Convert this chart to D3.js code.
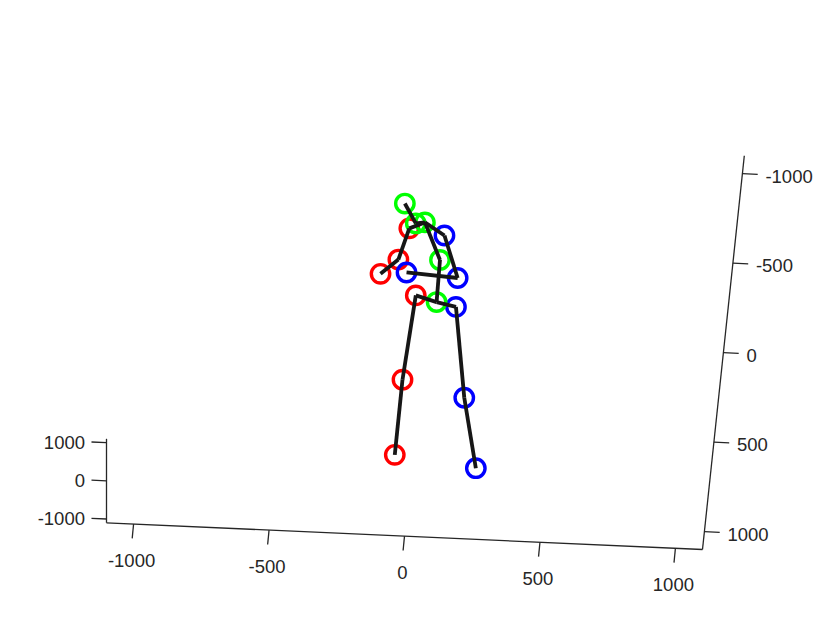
<!DOCTYPE html>
<html>
<head>
<meta charset="utf-8">
<script src="https://cdn.jsdelivr.net/npm/d3@7"></script>
<style>
  body { margin: 0; background: #fff; }
  text { font-family: "Liberation Sans", Arial, sans-serif; font-size: 18.5px; fill: #262626; }
</style>
</head>
<body>
<svg id="chart" width="822" height="617"></svg>
<script>
// joints of the pose (Human3.6M order), depth (y) can't be read off this view
const jointNames = ['pelvis', 'rHip', 'rKnee', 'rFoot', 'lHip', 'lKnee', 'lFoot', 'spine',
  'thorax', 'neck', 'head', 'lShoulder', 'lElbow', 'lWrist', 'rShoulder', 'rElbow', 'rWrist'];
const jointX = [43, -36, -52, -51, 116, 182, 252, 39, -31, -64, -112, 46, 111, -79, -86, -114, -174];
const jointY = [0, 0, 0, 0, 0, 0, 0, 0, 0, 0, 0, 0, 0, 0, 0, 0, 0];
const jointZ = [24, -8, 464, 884, 46, 549, 938, -211, -416, -408, -516, -348, -115, -133, -379, -203, -119];
const jointSide = ['c', 'r', 'r', 'r', 'l', 'l', 'l', 'c', 'c', 'c', 'c', 'l', 'l', 'l', 'r', 'r', 'r'];
const bones = [[0, 1], [1, 2], [2, 3], [0, 4], [4, 5], [5, 6], [0, 7], [7, 8], [8, 9], [9, 10],
  [8, 11], [11, 12], [12, 13], [8, 14], [14, 15], [15, 16]];

const axisLim = [-1100, 1100];
const xTicks = [-1000, -500, 0, 500, 1000];
const yTicks = [-1000, 0, 1000];
const zTicks = [-1000, -500, 0, 500, 1000];

const sideColor = { c: '#00ff00', r: '#ff0000', l: '#0000ff' };
// red markers end up underneath, green on top
const sideOrder = { r: 0, l: 1, c: 2 };

// orthographic view of the box: corner (xmin,ymin,zmin) and the span of each axis on screen
const corner = [148.3, 129.0];
const xSpan = [596, 26.7];
const ySpan = [0, -84];
const zSpan = [-41.8, 393.8];

const xScale = d3.scaleLinear().domain(axisLim).range([0, 1]);
const yScale = d3.scaleLinear().domain(axisLim).range([0, 1]);
const zScale = d3.scaleLinear().domain(axisLim).range([0, 1]);

const project = (x, y, z) => {
  const u = xScale(x);
  const v = yScale(y);
  const w = zScale(z);
  return [
    corner[0] + u * xSpan[0] + v * ySpan[0] + w * zSpan[0],
    corner[1] + u * xSpan[1] + v * ySpan[1] + w * zSpan[1],
  ];
};

const svg = d3.select('#chart');
const axisColor = '#262626';

const drawAxis = (from, to, ticks, pointAt, tickVec, labelPos, anchor) => {
  const g = svg.append('g').attr('class', 'axis');
  const a = pointAt(from);
  const b = pointAt(to);
  g.append('line')
    .attr('x1', a[0]).attr('y1', a[1])
    .attr('x2', b[0]).attr('y2', b[1])
    .style('stroke', axisColor)
    .style('stroke-width', 1.3);

  ticks.forEach((t) => {
    const p = pointAt(t);
    g.append('line')
      .attr('x1', p[0]).attr('y1', p[1])
      .attr('x2', p[0] + tickVec[0]).attr('y2', p[1] + tickVec[1])
      .style('stroke', axisColor)
      .style('stroke-width', 1.3);
    const lp = labelPos(p);
    g.append('text')
      .attr('x', lp[0])
      .attr('y', lp[1])
      .attr('text-anchor', anchor)
      .text(t);
  });
};

// x along the front bottom edge
drawAxis(axisLim[0], axisLim[1], xTicks,
  t => project(t, axisLim[0], axisLim[1]),
  [-1.4, 14.4],
  p => [p[0] - 2, p[1] + 43],
  'middle');

// depth axis at the left
drawAxis(axisLim[0], axisLim[1], yTicks,
  t => project(axisLim[0], t, axisLim[1]),
  [-15, -0.6],
  p => [85, p[1] + 6.5],
  'end');

// vertical axis at the right
drawAxis(axisLim[0], axisLim[1], zTicks,
  t => project(axisLim[1], axisLim[0], t),
  [15.3, 0.7],
  p => [p[0] + 23, p[1] + 9],
  'start');

const joints = jointNames.map((name, i) => {
  const p = project(jointX[i], jointY[i], jointZ[i]);
  return { name, side: jointSide[i], px: p[0], py: p[1] };
});

const markerOrder = joints.slice().sort((a, b) => sideOrder[a.side] - sideOrder[b.side]);

svg.append('g')
  .selectAll('circle')
  .data(markerOrder)
  .enter()
  .append('circle')
  .attr('cx', d => d.px)
  .attr('cy', d => d.py)
  .attr('r', 9.2)
  .attr('fill', 'none')
  .attr('stroke', d => sideColor[d.side])
  .attr('stroke-width', 3.4);

svg.append('g')
  .selectAll('line')
  .data(bones)
  .enter()
  .append('line')
  .attr('x1', d => joints[d[0]].px)
  .attr('y1', d => joints[d[0]].py)
  .attr('x2', d => joints[d[1]].px)
  .attr('y2', d => joints[d[1]].py)
  .attr('stroke', '#161616')
  .attr('stroke-width', 3.8);
</script>
</body>
</html>
